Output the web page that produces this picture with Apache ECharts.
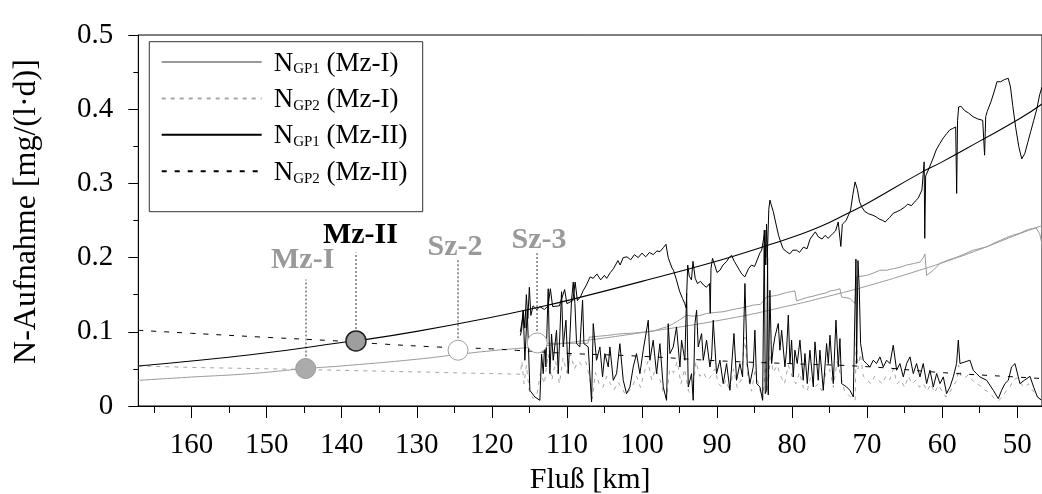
<!DOCTYPE html>
<html>
<head>
<meta charset="utf-8">
<script src="https://cdn.jsdelivr.net/npm/echarts@6/dist/echarts.min.js"></script>
<style>
html,body{margin:0;padding:0;background:#fff;}
#c{width:1042px;height:494px;}
</style>
</head>
<body>
<div id="c"></div>
<script>
// ---------- data (km, value) ----------
const xTickLabels = [160,150,140,130,120,110,100,90,80,70,60,50];
const xMinorTicks = [165,155,145,135,125,115,105,95,85,75,65,55];

// smooth curves
const fitGP1MzI = [[167.1,0.0346],[160,0.039],[152.1,0.0437],[144.8,0.0505],[140,0.054],[130,0.063],[124.5,0.0695],[120,0.0745],[114,0.080],[110,0.085],[100,0.0989],[88.3,0.118],[80,0.136],[76.3,0.145],[70,0.1617],[63,0.183],[60,0.193],[55,0.211],[49.6,0.2325],[46.7,0.243]];
const fitGP1MzII = [[167.1,0.054],[160,0.0607],[150,0.0717],[140,0.0855],[138.1,0.0877],[130,0.1006],[120,0.1196],[113.6,0.1335],[110,0.142],[100,0.168],[89.6,0.1965],[83.4,0.216],[80,0.2275],[76.3,0.2415],[72.5,0.2602],[70,0.273],[63,0.3135],[60,0.329],[55,0.357],[49.6,0.3877],[46.7,0.407]];
const fitGP2MzII = [[167.1,0.102],[160,0.098],[150.9,0.093],[140,0.0873],[135.3,0.084],[127.4,0.0796],[120,0.077],[116.7,0.075],[110,0.071],[100,0.067],[90,0.061],[80,0.057],[70,0.053],[60,0.045],[50,0.039],[46.7,0.037]];

// GP2 (Mz-I): smooth upstream part + measured part
const gp2MzI = [[167.1,0.054],[160,0.052],[152,0.0505],[146,0.0495],[140,0.048],[130,0.046],[124,0.0445],[120,0.0437],[116.2,0.0428],
[116.0,0.06],[115.7,0.03],[115.4,0.055],[115.0,0.02],[114.5,0.01],[114.0,0.015],[113.5,0.045],[113.0,0.03],[112.5,0.07],[112.0,0.035],[111.5,0.06],[111.0,0.03],[110.5,0.065],[110.0,0.045],[109.5,0.07],[109.0,0.05],[108.5,0.06],[108.0,0.055],[107.5,0.06],[107.0,0.04],[106.6,0.01],[106.2,0.045],[105.7,0.03],[105.2,0.025],[104.7,0.04],[104.2,0.03],[103.7,0.022],[103.2,0.032],[102.7,0.025],[102.2,0.015],[101.7,0.02],[101.2,0.028],[100.7,0.04],[100.2,0.025],[99.7,0.045],[99.2,0.06],[98.7,0.035],[98.2,0.05],[97.7,0.04],[97.2,0.02],[96.7,0.01],[96.3,0.05],[95.8,0.045],[95.3,0.06],[94.8,0.03],[94.3,0.05],[93.8,0.02],[93.3,0.015],[92.8,0.06],[92.3,0.04],[91.8,0.045],[91.3,0.035],[90.8,0.04],[90.3,0.05],[89.8,0.03],[89.3,0.025],[88.8,0.035],[88.3,0.02],[87.8,0.05],[87.3,0.025],[86.8,0.035],[86.3,0.093],[85.9,0.04],[85.4,0.02],[84.9,0.05],[84.4,0.025],[83.9,0.01],[83.5,0.06],[83.2,0.02],[82.9,0.07],[82.5,0.045],[82.0,0.055],[81.5,0.04],[81.0,0.03],[80.5,0.055],[80.0,0.04],[79.5,0.03],[79.0,0.045],[78.5,0.025],[78.0,0.02],[77.5,0.04],[77.0,0.025],[76.5,0.03],[76.0,0.02],[75.5,0.045],[75.0,0.05],[74.5,0.025],[74.0,0.06],[73.5,0.04],[73.0,0.02],[72.5,0.015],[72.0,0.01],[71.6,0.008],[71.45,0.09],[71.2,0.05],[70.9,0.07],[70.5,0.04],[70.0,0.035],[69.5,0.03],[69.0,0.04],[68.5,0.035],[68.0,0.03],[67.5,0.04],[67.0,0.035],[66.5,0.05],[66.0,0.03],[65.5,0.035],[65.0,0.025],[64.5,0.04],[64.0,0.03],[63.5,0.035],[63.0,0.025],[62.5,0.03],[62.0,0.02],[61.5,0.03],[61.0,0.018],[60.5,0.028],[60.0,0.02],[59.5,0.012],[59.0,0.018],[58.5,0.028],[58.0,0.035],[57.8,0.055],[57.5,0.04],[57.0,0.038],[56.5,0.042],[56.0,0.035],[55.5,0.03],[55.0,0.028],[54.5,0.022],[54.0,0.02],[53.5,0.015],[53.0,0.01],[52.5,0.007],[52.0,0.012],[51.5,0.02],[51.0,0.025],[50.5,0.035],[50.0,0.038],[49.5,0.03],[49.0,0.025],[48.5,0.03],[48.0,0.022],[47.5,0.015],[47.0,0.01],[46.7,0.01]];

// GP1 (Mz-I) measured
const gp1MzIMeas = [[113.95,0.0845],[110,0.0845],[107.2,0.0845],[107.0,0.093],[106.7,0.093],[105.8,0.094],[104.7,0.095],[103.5,0.0965],[102.5,0.0977],[101.4,0.098],[100.3,0.099],[99.4,0.1],[98.5,0.101],[97.6,0.104],[96.7,0.1066],[95.8,0.111],[95.0,0.116],[94.05,0.1223],[93.2,0.121],[92.3,0.122],[91.4,0.1246],[90.3,0.126],[89.2,0.127],[88.3,0.129],[87.4,0.131],[86.3,0.133],[85.17,0.136],[84.2,0.137],[83.4,0.147],[82.06,0.149],[80.73,0.153],[79.62,0.155],[79.4,0.1416],[78.06,0.1461],[77.2,0.148],[76.29,0.1506],[75.6,0.152],[74.95,0.155],[74.3,0.156],[73.62,0.158],[73.4,0.147],[72.29,0.1449],[71.6,0.138],[71.4,0.174],[70.07,0.176],[69.2,0.179],[68.3,0.183],[67.4,0.183],[66.5,0.185],[65.6,0.187],[64.74,0.19],[63.8,0.192],[62.96,0.194],[62.5,0.2],[62.3,0.205],[62.07,0.176],[61.18,0.183],[60.3,0.192],[59.4,0.196],[58.5,0.199],[57.2,0.204],[55.86,0.21],[54.08,0.2145],[53.2,0.219],[52.3,0.223],[51.4,0.227],[50.5,0.2305],[49.64,0.233],[48.5,0.238],[47.5,0.24],[47.0,0.232],[46.7,0.218]];

// GP1 (Mz-II) measured (upper black)
const gp1MzIIMeas = [[116.2,0.100],[116.0,0.112],[115.8,0.128],[115.6,0.105],[115.4,0.150],[115.2,0.118],[115.0,0.160],[114.8,0.122],[114.5,0.135],[114.0,0.130],[113.6,0.134],[113.0,0.130],[112.5,0.135],[112.2,0.158],[111.9,0.134],[111.0,0.135],[110.3,0.157],[110.0,0.138],[109.2,0.142],[108.9,0.167],[108.6,0.142],[108.2,0.147],[107.8,0.156],[107.4,0.163],[106.9,0.174],[106.5,0.172],[106.0,0.178],[105.5,0.170],[105.0,0.176],[104.7,0.172],[104.2,0.180],[103.8,0.185],[103.2,0.196],[102.9,0.190],[102.5,0.200],[102.0,0.201],[101.5,0.197],[101.0,0.204],[100.5,0.200],[100.0,0.206],[99.5,0.201],[99.0,0.207],[98.5,0.204],[98.0,0.209],[97.6,0.208],[97.1,0.214],[96.8,0.218],[96.5,0.200],[96.0,0.186],[95.8,0.183],[95.4,0.170],[95.0,0.155],[94.6,0.145],[94.3,0.138],[94.1,0.132],[93.9,0.190],[93.7,0.175],[93.4,0.170],[93.2,0.195],[92.9,0.172],[92.6,0.165],[92.2,0.168],[91.8,0.163],[91.4,0.160],[91.0,0.165],[90.9,0.125],[90.8,0.185],[90.6,0.199],[90.3,0.190],[90.0,0.180],[89.6,0.183],[89.2,0.190],[88.7,0.195],[88.4,0.200],[88.05,0.203],[87.7,0.195],[87.4,0.190],[87.0,0.183],[86.7,0.178],[86.3,0.174],[85.8,0.185],[85.4,0.190],[85.0,0.188],[84.6,0.198],[84.3,0.206],[84.05,0.210],[83.8,0.225],[83.6,0.237],[83.5,0.190],[83.4,0.245],[83.3,0.200],[83.1,0.265],[82.95,0.2775],[82.8,0.272],[82.5,0.262],[82.2,0.248],[81.8,0.230],[81.6,0.2235],[81.2,0.212],[80.7,0.2077],[80.3,0.205],[79.9,0.210],[79.4,0.210],[79.0,0.207],[78.5,0.214],[78.0,0.212],[77.6,0.225],[76.9,0.2347],[76.5,0.228],[76.0,0.225],[75.6,0.230],[75.2,0.226],[74.6,0.232],[74.2,0.236],[73.85,0.248],[73.5,0.215],[73.3,0.245],[72.8,0.250],[72.2,0.264],[71.9,0.285],[71.6,0.302],[71.3,0.292],[71.0,0.275],[70.7,0.268],[70.3,0.262],[69.8,0.259],[69.2,0.257],[68.8,0.255],[68.4,0.252],[67.9,0.250],[67.6,0.248],[67.0,0.254],[66.5,0.260],[66.0,0.262],[65.6,0.264],[65.0,0.268],[64.6,0.272],[64.1,0.270],[63.6,0.276],[63.2,0.280],[62.7,0.291],[62.4,0.329],[62.32,0.226],[62.2,0.310],[61.85,0.318],[61.2,0.334],[60.8,0.345],[60.3,0.354],[59.8,0.362],[59.4,0.367],[59.0,0.372],[58.6,0.374],[58.2,0.376],[58.07,0.2865],[57.95,0.385],[57.8,0.403],[57.5,0.404],[57.0,0.398],[56.5,0.395],[55.9,0.390],[55.3,0.387],[54.6,0.385],[54.35,0.338],[54.2,0.390],[54.0,0.397],[53.5,0.410],[53.0,0.426],[52.7,0.437],[52.2,0.437],[51.7,0.440],[51.2,0.4416],[50.9,0.43],[50.6,0.405],[50.2,0.375],[49.8,0.35],[49.4,0.333],[49.0,0.34],[48.6,0.355],[48.2,0.37],[47.8,0.385],[47.4,0.40],[47.0,0.42],[46.7,0.43]];

// GP2 (Mz-II) measured (lower black, spiky)
const gp2MzIIMeas = [[116.2,0.095],[116.04,0.102],[115.82,0.129],[115.6,0.0616],[115.28,0.129],[114.93,0.0211],[114.26,0.0121],[113.6,0.0077],[113.37,0.070],[113.15,0.0436],[112.93,0.088],[112.8,0.0526],[112.49,0.158],[112.27,0.0436],[112.04,0.097],[111.82,0.0616],[111.38,0.102],[111.15,0.0436],[110.71,0.154],[110.49,0.0796],[110.13,0.1156],[109.82,0.0436],[109.38,0.1426],[109.15,0.167],[108.93,0.138],[108.71,0.084],[108.27,0.0796],[107.91,0.1426],[107.73,0.084],[107.16,0.0796],[106.71,0.0054],[106.49,0.111],[106.05,0.0616],[105.6,0.0796],[105.25,0.0391],[104.94,0.0706],[104.49,0.0526],[104.27,0.0796],[103.82,0.0346],[103.38,0.0436],[102.94,0.084],[102.49,0.0346],[102.05,0.0166],[101.6,0.0256],[101.16,0.0526],[100.72,0.0706],[100.27,0.0436],[99.83,0.0751],[99.16,0.1156],[98.94,0.0616],[98.5,0.0886],[98.05,0.0436],[97.61,0.084],[97.16,0.0256],[96.72,0.0077],[96.5,0.111],[96.27,0.0706],[95.83,0.0796],[95.39,0.1066],[94.94,0.0526],[94.72,0.0886],[94.28,0.0616],[94.05,0.1516],[93.83,0.0256],[93.39,0.0436],[93.17,0.0077],[92.94,0.111],[92.72,0.129],[92.5,0.0796],[92.05,0.0976],[91.83,0.0616],[91.39,0.0886],[90.94,0.0526],[90.72,0.0661],[90.5,0.1156],[90.06,0.0436],[89.61,0.0617],[89.17,0.0302],[88.72,0.0572],[88.28,0.0212],[87.74,0.0977],[87.39,0.0347],[86.95,0.0572],[86.59,0.0392],[86.28,0.1651],[85.97,0.0572],[85.61,0.0302],[85.17,0.0527],[84.95,0.1022],[84.72,0.0302],[84.28,0.0257],[83.92,0.0077],[83.7,0.237],[83.57,0.0167],[83.39,0.0212],[83.26,0.2],[83.17,0.015],[82.95,0.156],[82.72,0.0572],[82.5,0.0797],[82.28,0.0932],[81.84,0.1112],[81.62,0.0752],[81.39,0.1022],[80.95,0.0527],[80.73,0.0752],[80.5,0.1224],[80.28,0.0572],[80.06,0.0887],[79.84,0.0392],[79.62,0.0752],[79.31,0.0572],[78.95,0.0887],[78.51,0.0347],[78.28,0.0707],[77.97,0.0302],[77.62,0.0752],[77.17,0.0257],[76.95,0.0864],[76.51,0.0347],[76.29,0.0752],[75.84,0.0212],[75.4,0.0842],[75.17,0.0572],[74.95,0.0954],[74.51,0.0302],[74.15,0.1157],[73.84,0.0527],[73.62,0.0909],[73.4,0.0302],[72.73,0.0257],[72.29,0.0212],[71.84,0.0122],[71.62,0.0099],[71.49,0.198],[71.4,0.0572],[71.22,0.196],[71.05,0.16],[70.87,0.0842],[70.51,0.0617],[70.07,0.0572],[69.62,0.0527],[69.18,0.0617],[68.74,0.0572],[68.29,0.0662],[67.85,0.0527],[67.4,0.0617],[66.96,0.0572],[66.52,0.0819],[66.07,0.0482],[65.63,0.0572],[65.18,0.0392],[64.74,0.0572],[64.29,0.0662],[63.85,0.0437],[63.41,0.0572],[62.96,0.0392],[62.52,0.0572],[62.07,0.0302],[61.63,0.0482],[61.18,0.0257],[60.74,0.0437],[60.29,0.0302],[59.85,0.0392],[59.41,0.0167],[58.96,0.0257],[58.52,0.0392],[58.08,0.0572],[57.85,0.0887],[57.63,0.0572],[56.97,0.0594],[56.3,0.0617],[55.86,0.0482],[55.41,0.0437],[54.97,0.0392],[54.08,0.0347],[53.19,0.0212],[52.52,0.0099],[52.08,0.0212],[51.64,0.0302],[51.19,0.0347],[50.75,0.0527],[50.3,0.0572],[49.86,0.0392],[49.64,0.0302],[49.0,0.035],[48.3,0.04],[47.8,0.025],[47.3,0.012],[46.8,0.008]];

// measuring sites
const siteNames = ['Mz-I','Mz-II','Sz-2','Sz-3'];
const siteKm = [144.8, 138.1, 124.5, 113.95];
const siteVal = [0.0505, 0.0877, 0.0752, 0.085];
const stemTop = [0.1705, 0.207, 0.1965, 0.206];
const labelKm = [145.2, 137.5, 124.9, 113.7];
const labelVal = [0.1965, 0.2302, 0.2139, 0.2233];

const legendNames = ['N_GP1 (Mz-I)','N_GP2 (Mz-I)','N_GP1 (Mz-II)','N_GP2 (Mz-II)'];

// ---------- chart ----------
const FONT = "Liberation Serif";
const GREY = '#9a9a9a';
const chart = echarts.init(document.getElementById('c'));

const siteFill = ['#ababab','#9e9e9e','#ffffff','#ffffff'];
const siteBorder = ['#999999','#222222','#a0a0a0','#a0a0a0'];
const siteLabelColor = ['#999999','#000000','#999999','#999999'];

const siteData = siteKm.map((k,i)=>({value:[k,siteVal[i]], itemStyle:{color:siteFill[i], borderColor:siteBorder[i], borderWidth: i===1?1.5:1, opacity:1}}));
const labelData = labelKm.map((k,i)=>({value:[k,labelVal[i]], name:siteNames[i], label:{color:siteLabelColor[i]}}));
const stemData = siteKm.map((k,i)=>[{coord:[k,siteVal[i]]},{coord:[k,stemTop[i]]}]);

const lineS = (name, data, color, width, type, z, smooth) => ({
  name, type:'line', data, showSymbol:false, symbol:'none', z: z||2, smooth: !!smooth,
  lineStyle:{color, width, type: type||'solid'}, itemStyle:{color},
  silent:true, animation:false
});

chart.setOption({
  animation:false,
  backgroundColor:'#fff',
  grid:{left:138.3, right:0, top:35, bottom:88, outerBoundsMode:'none', containLabel:false,
        show:true, borderColor:'#000', borderWidth:1, backgroundColor:'transparent'},
  xAxis:[{
    type:'value', inverse:true, min:46.7, max:167.1, position:'bottom',
    axisLine:{show:true, onZero:false, lineStyle:{color:'#000', width:1}},
    axisTick:{show:true, inside:false, length:12, lineStyle:{color:'#000'}, customValues: xTickLabels},
    axisLabel:{show:true, margin:25, fontFamily:FONT, fontSize:29, color:'#000', customValues: xTickLabels},
    splitLine:{show:false},
    name:'Fluß [km]', nameLocation:'middle', nameGap:59,
    nameTextStyle:{fontFamily:FONT, fontSize:30, color:'#000'}
  },{
    type:'value', inverse:true, min:46.7, max:167.1, position:'bottom',
    axisLine:{show:false, onZero:false},
    axisTick:{show:true, length:7, lineStyle:{color:'#000'}, customValues: xMinorTicks},
    axisLabel:{show:false},
    splitLine:{show:false}
  }],
  yAxis:{
    type:'value', min:0, max:0.5, interval:0.1,
    axisLine:{show:true, lineStyle:{color:'#000', width:1}},
    axisTick:{show:true, length:10, lineStyle:{color:'#000'}},
    minorTick:{show:true, splitNumber:2, length:5, lineStyle:{color:'#000'}},
    splitLine:{show:false},
    axisLabel:{margin:25, fontFamily:FONT, fontSize:29, color:'#000', formatter: v => String(Math.round(v*10)/10)},
    name:'N-Aufnahme [mg/(l·d)]', nameLocation:'middle', nameRotate:90, nameGap:96,
    nameTextStyle:{fontFamily:FONT, fontSize:32, color:'#000', padding:[0,0,0,18]}
  },
  legend:{
    data: legendNames, orient:'vertical', left:160.7, top:50, padding:0,
    itemWidth:100, itemHeight:14, itemGap:9.4, z:10, selectedMode:false,
    itemStyle:{opacity:0},
    formatter: name => { const m = name.match(/^N_(GP\d) (.*)$/); return '{n|N}{s|' + m[1] + '}{n| ' + m[2] + '}'; },
    textStyle:{ padding:[0,0,0,7], rich:{
      n:{fontFamily:FONT, fontSize:27, color:'#000', lineHeight:30, verticalAlign:'bottom'},
      s:{fontFamily:FONT, fontSize:15, color:'#000', lineHeight:8, verticalAlign:'bottom'}
    }}
  },
  graphic:[{type:'rect', z:9, shape:{x:149.3, y:41.7, width:273.4, height:170}, style:{fill:'#fff', stroke:'#333', lineWidth:1}}],
  series:[
    lineS('N_GP2 (Mz-I)', gp2MzI, '#a5a5a5', 1, [4,5], 2),
    lineS('N_GP1 (Mz-I)', fitGP1MzI, GREY, 1, 'solid', 3, true),
    lineS('N_GP1 (Mz-I)', gp1MzIMeas, GREY, 1, 'solid', 3),
    lineS('N_GP2 (Mz-II)', fitGP2MzII, '#000', 1, [5,8], 4, true),
    lineS('N_GP2 (Mz-II) Messung', gp2MzIIMeas, '#000', 1, 'solid', 5),
    lineS('N_GP1 (Mz-II)', fitGP1MzII, '#000', 1.1, 'solid', 6, true),
    lineS('N_GP1 (Mz-II)', gp1MzIIMeas, '#000', 1, 'solid', 6),
    {name:'Messstellen', type:'scatter', data:siteData, symbol:'circle', symbolSize:20, z:7, silent:true,
      itemStyle:{opacity:1}},
    {name:'Stiele', type:'line', data:[], z:8, silent:true,
      markLine:{silent:true, symbol:['none','none'], label:{show:false},
        lineStyle:{color:'#999', width:2, type:[2,2], opacity:1}, data:stemData}},
    {name:'Beschriftung', type:'scatter', data:labelData, symbolSize:0, z:8, silent:true,
      itemStyle:{opacity:1},
      label:{show:true, position:'inside', formatter:p=>p.name, fontFamily:FONT, fontSize:30, fontWeight:'bold', opacity:1}}
  ]
});
</script>
</body>
</html>
